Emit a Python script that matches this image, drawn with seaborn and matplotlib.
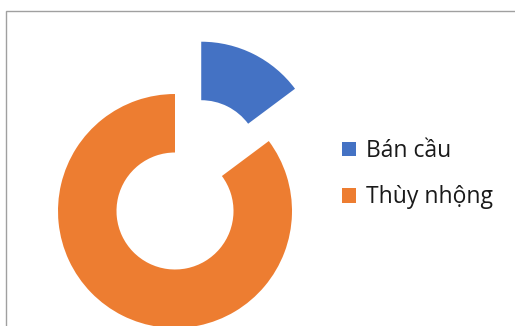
import matplotlib
matplotlib.use("Agg")
import matplotlib.pyplot as plt
from matplotlib.patches import Rectangle, Patch
import seaborn as sns

# data
labels = ["Bán cầu", "Thùy nhộng"]
values = [14.8, 85.2]
colors = ["#4472C4", "#ED7D31"]

sns.set_theme(style="white")
plt.rcParams["font.family"] = ["Open Sans", "DejaVu Sans"]

W, H, DPI = 515, 326, 100
fig = plt.figure(figsize=(W / DPI, H / DPI), dpi=DPI)
fig.patch.set_facecolor("white")

# donut centre at (175, 211) px, outer radius 117 px
cx, cy, R = 175, 211, 117
ax = fig.add_axes([0, 0, 1, 1])
ax.pie(
    values,
    colors=colors,
    startangle=90,
    counterclock=False,
    explode=[0.5, 0],
    radius=1,
    wedgeprops=dict(width=0.5, linewidth=0),
)
ax.set_xlim(-cx / R, (W - cx) / R)
ax.set_ylim((cy - H) / R, cy / R)
ax.set_aspect("auto")
ax.axis("off")

# chart-area border (cropped at right and bottom)
fig.patches.append(Rectangle((5.5 / W, -0.1), 1.2, 1 - 10.5 / H + 0.1,
                             transform=fig.transFigure, fill=False,
                             edgecolor="#a0a0a0", linewidth=1.0))

handles = [Patch(facecolor=c, edgecolor="none") for c in colors]
leg = ax.legend(
    handles, labels,
    loc="upper left",
    bbox_to_anchor=(342 / W, 1 - 139 / H),
    bbox_transform=fig.transFigure,
    frameon=False,
    fontsize=16.5,
    handlelength=0.61,
    handleheight=0.61,
    handletextpad=0.44,
    labelspacing=0.98,
    borderpad=0,
    borderaxespad=0,
)
for t in leg.get_texts():
    t.set_color("#1a1a1a")

fig.savefig("out.png", dpi=DPI)
